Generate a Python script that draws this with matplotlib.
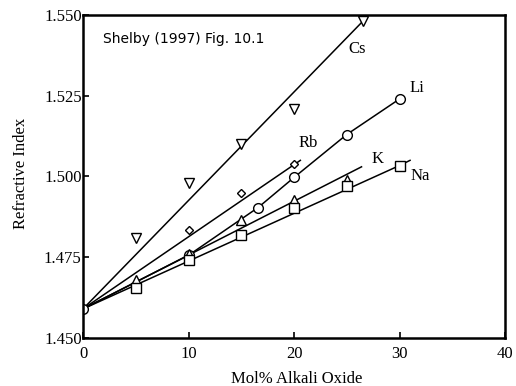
import matplotlib
matplotlib.use("Agg")
import matplotlib.pyplot as plt

# data (mol% alkali oxide vs refractive index)
cs_x = [5, 10, 15, 20, 26.5]
cs_y = [1.481, 1.498, 1.510, 1.521, 1.548]
cs_line_x = [0, 26.5]
cs_line_y = [1.459, 1.548]

rb_x = [10, 15, 20]
rb_y = [1.4833, 1.495, 1.504]
rb_line_x = [0, 20.6]
rb_line_y = [1.459, 1.505]

li_x = [0, 10, 16.6, 20, 25, 30]
li_y = [1.459, 1.4756, 1.4904, 1.4997, 1.513, 1.524]

k_x = [5, 10, 15, 20, 25]
k_y = [1.468, 1.476, 1.4864, 1.4926, 1.499]
k_line_x = [0, 26.4]
k_line_y = [1.459, 1.503]

na_x = [5, 10, 15, 20, 25, 30]
na_y = [1.4654, 1.474, 1.4818, 1.4904, 1.497, 1.5034]
na_line_x = [0, 30, 31.0]
na_line_y = [1.459, 1.5034, 1.5050]

labels = ["Cs", "Rb", "Li", "K", "Na"]
label_x = [26.0, 21.3, 31.6, 27.9, 32.0]
label_y = [1.5395, 1.5105, 1.5275, 1.5055, 1.5003]

serif = "Liberation Serif"

fig = plt.figure(figsize=(5.16, 3.86), dpi=100)
ax = fig.add_axes([0.1609, 0.1244, 0.8178, 0.8367])

lw = 1.1
ax.plot(cs_line_x, cs_line_y, color="black", lw=lw)
ax.plot(rb_line_x, rb_line_y, color="black", lw=lw)
ax.plot(li_x, li_y, color="black", lw=lw)
ax.plot(k_line_x, k_line_y, color="black", lw=lw)
ax.plot(na_line_x, na_line_y, color="black", lw=lw)

mk = dict(ls="none", mfc="white", mec="black", mew=1.0)
ax.plot(cs_x, cs_y, marker="v", ms=7, **mk)
ax.plot(rb_x, rb_y, marker="D", ms=4, **mk)
ax.plot(li_x, li_y, marker="o", ms=7, **mk)
ax.plot(k_x, k_y, marker="^", ms=6.5, **mk)
ax.plot(na_x, na_y, marker="s", ms=7, **mk)

for t, x, y in zip(labels, label_x, label_y):
    ax.text(x, y, t, fontsize=12, family=serif, ha="center", va="center")

ax.text(0.047, 0.926, "Shelby (1997) Fig. 10.1", transform=ax.transAxes,
        fontsize=10, family="DejaVu Sans", ha="left", va="center")

ax.set_xlim(0, 40)
ax.set_ylim(1.450, 1.550)
ax.set_xticks([0, 10, 20, 30, 40])
ax.set_yticks([1.450, 1.475, 1.500, 1.525, 1.550])
ax.set_yticklabels(["1.450", "1.475", "1.500", "1.525", "1.550"])
ax.tick_params(direction="in", length=4, width=1.2, labelsize=12)
ax.tick_params(axis="x", pad=6)
ax.tick_params(axis="y", pad=1)
for lab in ax.get_xticklabels() + ax.get_yticklabels():
    lab.set_family(serif)
for s in ax.spines.values():
    s.set_linewidth(1.8)

ax.set_xlabel("Mol% Alkali Oxide", family=serif, fontsize=12)
ax.set_ylabel("Refractive Index", family=serif, fontsize=12)
ax.xaxis.set_label_coords(0.507, -0.102)
ax.yaxis.set_label_coords(-0.128, 0.51)

fig.savefig("out.png", dpi=100)
